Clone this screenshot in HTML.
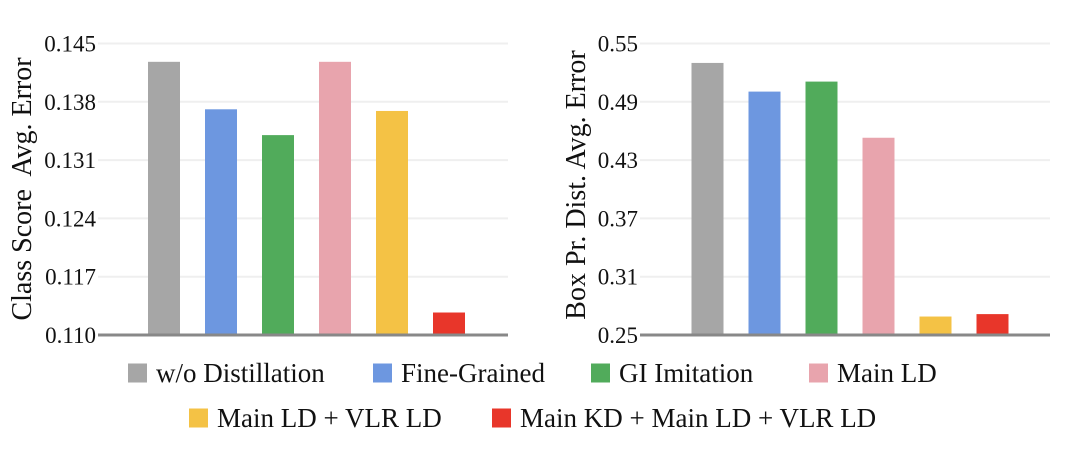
<!DOCTYPE html>
<html><head><meta charset="utf-8"><style>
html,body{margin:0;padding:0;background:#fff;}
svg{display:block;}
.t{font-family:"Liberation Serif","Times New Roman",serif;fill:#111;}
</style></head><body>
<svg id="chart" width="1080" height="464" viewBox="0 0 1080 464" xmlns="http://www.w3.org/2000/svg">
<g id="panels"></g>
<text class="t" x="0" y="0" text-anchor="middle" style="font-size:28px;font-family:'Liberation Serif',serif;white-space:pre" transform="translate(31,189) rotate(-90)">Class Score  Avg. Error</text>
<text class="t" x="0" y="0" text-anchor="middle" style="font-size:28px;font-family:'Liberation Serif',serif" transform="translate(585,185) rotate(-90)">Box Pr. Dist. Avg. Error</text>
<g>
  <g><rect x="128" y="363.5" width="19" height="19" fill="#a6a6a6"/><text class="t" x="156" y="382" style="font-size:27px;font-family:'Liberation Serif',serif">w/o Distillation</text></g>
  <g><rect x="373" y="363.5" width="19" height="19" fill="#6d97e0"/><text class="t" x="401" y="382" style="font-size:27px;font-family:'Liberation Serif',serif">Fine-Grained</text></g>
  <g><rect x="591" y="363.5" width="19" height="19" fill="#51ab5b"/><text class="t" x="619" y="382" style="font-size:27px;font-family:'Liberation Serif',serif">GI Imitation</text></g>
  <g><rect x="809" y="363.5" width="19" height="19" fill="#e8a4ad"/><text class="t" x="837" y="382" style="font-size:27px;font-family:'Liberation Serif',serif">Main LD</text></g>
  <g><rect x="189" y="408.5" width="19" height="19" fill="#f4c245"/><text class="t" x="217" y="427" style="font-size:27px;font-family:'Liberation Serif',serif">Main LD + VLR LD</text></g>
  <g><rect x="492" y="408.5" width="19" height="19" fill="#e8362a"/><text class="t" x="520" y="427" style="font-size:27px;font-family:'Liberation Serif',serif">Main KD + Main LD + VLR LD</text></g>
</g>
</svg>
<script>
const colors = ["#a6a6a6","#6d97e0","#51ab5b","#e8a4ad","#f4c245","#e8362a"];
const classScoreValues = [0.1428,0.1371,0.1340,0.1428,0.1369,0.1127];
const boxDistValues = [0.530,0.5005,0.5108,0.453,0.269,0.2715];
const leftTicks = [0.110,0.117,0.124,0.131,0.138,0.145];
const leftTickLabels = ["0.110","0.117","0.124","0.131","0.138","0.145"];
const rightTicks = [0.25,0.31,0.37,0.43,0.49,0.55];
const rightTickLabels = ["0.25","0.31","0.37","0.43","0.49","0.55"];

const NS = "http://www.w3.org/2000/svg";
const root = document.getElementById("panels");
function mk(tag, attrs, parent){
  const e = document.createElementNS(NS, tag);
  for (const k in attrs) e.setAttribute(k, attrs[k]);
  parent.appendChild(e);
  return e;
}

function drawPanel(cfg){
  const g = mk("g", {}, root);
  
  
  const yTop = 43.5, yBot = 335;
  const ymin = cfg.ticks[0], ymax = cfg.ticks[cfg.ticks.length-1];
  const y = v => yBot - (v - ymin) / (ymax - ymin) * (yBot - yTop);
  const slot = 57;
  const xc = i => cfg.x0 + cfg.first + i * slot;
  cfg.ticks.forEach((t, i) => {
    if (i > 0) {
      const gl = mk("line", {x1: cfg.x0, x2: cfg.x1, y1: y(t), y2: y(t), stroke: "#efefef", "stroke-width": 2}, g);
      
      
    }
    const tl = mk("text", {class: "t", x: cfg.x0 - 2, y: y(t) + 8, "text-anchor": "end",
      style: "font-size:23px;font-family:'Liberation Serif',serif"}, g);
    tl.textContent = cfg.tickLabels[i];
    
    
  });
  cfg.values.forEach((v, i) => {
    const b = mk("rect", {x: xc(i) - 16, y: y(v), width: 32, height: yBot - y(v), fill: colors[i]}, g);
    
    
  });
  const ax = mk("line", {x1: cfg.x0, x2: cfg.x1, y1: yBot, y2: yBot, stroke: "#888", "stroke-width": 3}, g);
  
  
}

drawPanel({name: "class-score-panel", x0: 98, x1: 508, first: 66, ticks: leftTicks, tickLabels: leftTickLabels, values: classScoreValues});
drawPanel({name: "box-dist-panel", x0: 640, x1: 1050, first: 67.5, ticks: rightTicks, tickLabels: rightTickLabels, values: boxDistValues});
</script>
</body></html>
